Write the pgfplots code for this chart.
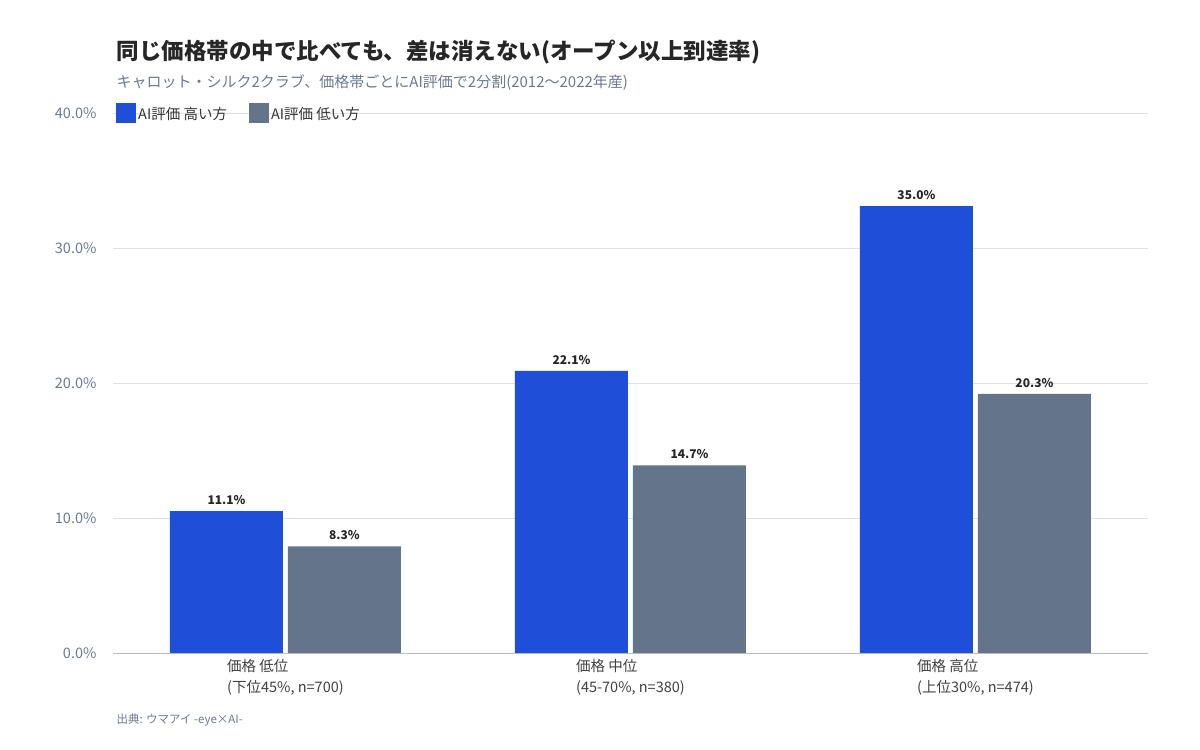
\documentclass[border=0pt]{standalone}
\usepackage{pgfplots}
\pgfplotsset{compat=1.18}
\usepackage{fontspec}
\setmainfont{Noto Sans CJK JP}
\definecolor{hi}{HTML}{1F4ED8}
\definecolor{lo}{HTML}{64748B}
\definecolor{gridc}{HTML}{DDE2EA}
\definecolor{tickc}{HTML}{6B7A90}
\begin{document}
\begin{tikzpicture}
\useasboundingbox (0pt,0pt) rectangle (1200pt,750pt);
\node[anchor=west,font=\fontsize{22.5}{26}\selectfont\bfseries,text=black!85] at (113pt,698pt) {同じ価格帯の中で比べても、差は消えない(オープン以上到達率)};
\node[anchor=west,font=\fontsize{15}{17}\selectfont,text=tickc] at (113pt,667pt) {キャロット・シルク2クラブ、価格帯ごとにAI評価で2分割(2012〜2022年産)};
\node[anchor=west,font=\fontsize{11.5}{13}\selectfont,text=tickc] at (113pt,30pt) {出典: ウマアイ -eye×AI-};
\begin{axis}[at={(113pt,97pt)},anchor=south west,scale only axis,width=1035pt,height=540pt,
 ymin=0,ymax=40,xmin=-0.5,xmax=2.5,
 ybar=5pt,bar width=113pt,
 axis x line*=bottom, axis y line*=left,
 y axis line style={draw=none},
 x axis line style={gridc!70!black!70},
 ytick={0,10,20,30,40}, yticklabels={},
 ymajorgrids, grid style={gridc},
 xtick={0,1,2}, major tick length=0pt,
 xticklabels={{価格 低位\\(下位45\%, n=700)},{価格 中位\\(45-70\%, n=380)},{価格 高位\\(上位30\%, n=474)}},
 xticklabel style={align=left,font=\fontsize{14.5}{21}\selectfont,text=black!75,yshift=-3pt},
 point meta=explicit,
 nodes near coords={\pgfmathprintnumber[fixed,fixed zerofill,precision=1,assume math mode=true]{\pgfplotspointmeta}\%},
 nodes near coords style={font=\fontsize{12}{14}\selectfont\bfseries,text=black!85,yshift=3pt},
 legend style={at={(rel axis cs:0,1)},anchor=west,draw=none,fill=none,legend columns=2,
   font=\fontsize{14.5}{17}\selectfont,text=black!80,/tikz/every even column/.append style={column sep=20pt}},
 legend image code/.code={\fill[#1] (0pt,-8pt) rectangle (20pt,12pt);},
 clip=false]
\addplot[fill=hi,draw=none] coordinates {(0,10.5)[11.1] (1,20.9)[22.1] (2,33.1)[35.0]};
\addplot[fill=lo,draw=none] coordinates {(0,7.9)[8.3] (1,13.9)[14.7] (2,19.2)[20.3]};
\legend{AI評価 高い方,AI評価 低い方}
\end{axis}
\foreach \v/\y in {0/653,10/518,20/383,30/248,40/113}{
 \node[anchor=east,font=\fontsize{14.5}{17}\selectfont,text=tickc] at (100pt,750pt-\y pt) {\v.0\%};}
\end{tikzpicture}
\end{document}
